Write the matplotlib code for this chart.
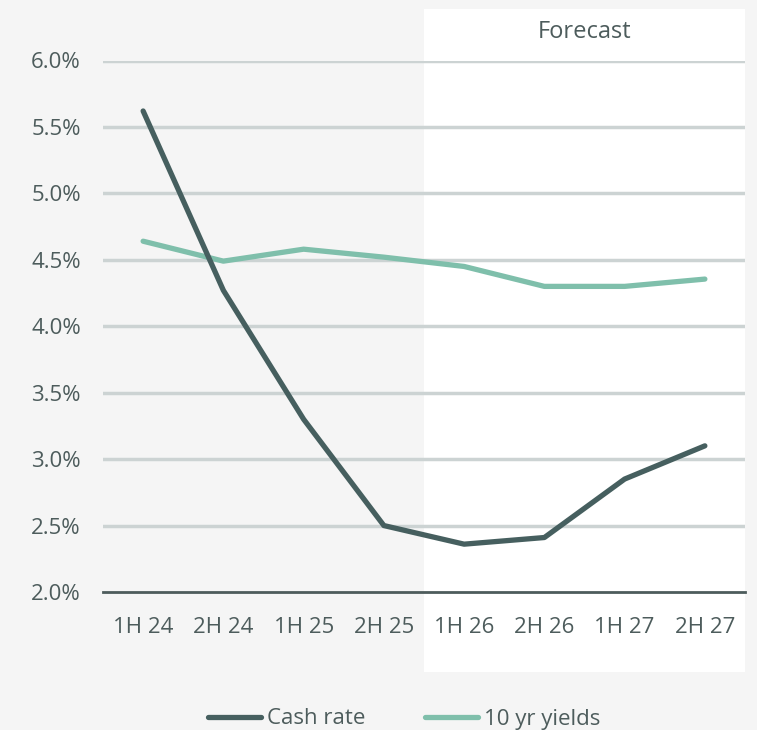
import matplotlib
matplotlib.use("Agg")
import matplotlib.pyplot as plt
import matplotlib.transforms as mtransforms
from matplotlib.patches import Rectangle
from matplotlib.ticker import FuncFormatter

categories = ["1H 24", "2H 24", "1H 25", "2H 25", "1H 26", "2H 26", "1H 27", "2H 27"]
cash_rate = [5.62, 4.27, 3.30, 2.50, 2.36, 2.41, 2.85, 3.10]
ten_yr_yields = [4.64, 4.49, 4.58, 4.52, 4.45, 4.30, 4.30, 4.355]
forecast_start = 4  # index of first forecast category
yticks = [2.0, 2.5, 3.0, 3.5, 4.0, 4.5, 5.0, 5.5, 6.0]

BG = "#f5f5f5"
TEXT = "#4d5c5c"
GRID = "#ccd3d3"
C_CASH = "#465f5f"
C_10Y = "#7fbfab"

plt.rcParams["font.family"] = ["Open Sans", "DejaVu Sans"]

fig = plt.figure(figsize=(7.57, 7.30), dpi=100, facecolor=BG)
ax = fig.add_axes([103/757, (730-592)/730, (745-103)/757, (592-60.5)/730])
ax.set_facecolor("none")

x = list(range(len(categories)))
ax.set_xlim(-0.5, len(categories) - 0.5)
ax.set_ylim(2.0, 6.0)

# forecast shaded (white) region: x in data coords, y in figure coords
trans = mtransforms.blended_transform_factory(ax.transData, fig.transFigure)
rect = Rectangle((forecast_start - 0.5, (730-672)/730), len(categories) - forecast_start,
                 (672-9)/730, transform=trans, facecolor="white", edgecolor="none",
                 zorder=0, clip_on=False)
ax.add_patch(rect)
fig.text(0.5*(424+745)/757, 1 - 31.5/730, "Forecast", ha="center", va="center",
         fontsize=17, color=TEXT)

for yv in yticks[1:]:
    ax.axhline(yv, color=GRID, lw=2.5, zorder=1)

ax.plot(x, cash_rate, color=C_CASH, lw=3.8, solid_capstyle="round",
        solid_joinstyle="round", label="Cash rate", zorder=3)
ax.plot(x, ten_yr_yields, color=C_10Y, lw=3.8, solid_capstyle="round",
        solid_joinstyle="round", label="10 yr yields", zorder=2)

for s in ["top", "right", "left"]:
    ax.spines[s].set_visible(False)
ax.spines["bottom"].set_color(TEXT)
ax.spines["bottom"].set_linewidth(2)
ax.spines["bottom"].set_zorder(4)

ax.set_xticks(x)
ax.set_xticklabels(categories)
ax.set_yticks(yticks)
ax.yaxis.set_major_formatter(FuncFormatter(lambda v, p: f"{v:.1f}%"))
ax.tick_params(axis="both", length=0, labelsize=16, colors=TEXT)
ax.tick_params(axis="y", pad=16)
ax.tick_params(axis="x", pad=18)

leg = fig.legend(loc="center", bbox_to_anchor=(404/757, 1 - 719/730), ncol=2,
                 frameon=False, fontsize=16, handlelength=2.4, handletextpad=0.25,
                 columnspacing=2.7)
for t in leg.get_texts():
    t.set_color(TEXT)

fig.savefig("out.png", dpi=100, facecolor=BG)
